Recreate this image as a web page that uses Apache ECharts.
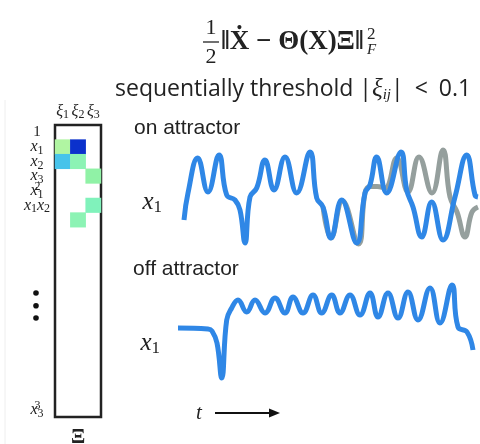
<!DOCTYPE html>
<html><head><meta charset="utf-8">
<script src="https://cdn.jsdelivr.net/npm/echarts@6/dist/echarts.min.js"></script>
<style>html,body{margin:0;padding:0;background:#fff}#c{width:480px;height:444px}</style>
</head><body><div id="c"></div>
<script>
// ---- Library terms (rows) and coefficient columns ----
const terms = ['1','x1','x2','x3','x1^2','x1x2','x1x3','x2^2','x2x3','x3^2',
  'x1^3','x1^2x2','x1^2x3','x1x2^2','x1x2x3','x1x3^2','x2^3','x2^2x3','x2x3^2','x3^3'];
const shownTerms = ['1','x1','x2','x3','x1^2','x1x2','x3^3'];
const coefCols = ['1','2','3'];          // ξ1, ξ2, ξ3
// nonzero sparse coefficients per column: [term, value]
const xi1 = [['x1',-10],['x2',10]];
const xi2 = [['x1',28],['x2',-1],['x1x3',-1]];
const xi3 = [['x3',-2.667],['x1x2',1]];

// ---- "on attractor" time series (t, x1) ----
const onTime = [0.6,1.0,1.97,3.0,4.1,4.87,5.7,6.2,6.7,7.2,7.87,8.7,9.6,10.7,11.87,13.2,13.87,14.5,15.3,16.37,17.87,18.7,19.2,19.87,20.87,22.3,22.87,23.5,24.37,25.37,26.5,27.7,28.87,29.7,30.0];
const onTrue = [-8.8,2.0,16,2.4,17.2,1.2,-0.8,-4.8,-18,0.4,4,15.2,3.2,16.4,2,18.4,0,-3.6,-16,-0.8,-18,2,5.2,16.4,2,18.4,3.2,-3.6,-15.6,-1.6,-16.8,0.4,17.2,1.2,0.4];
const onModelTime = [14.5,15.3,16.45,18.05,18.7,19.2,19.9,20.7,21.87,23.0,24.1,25.4,26.5,27.2,27.9,28.7,29.4,30.0];
const onModel = [-3.6,-16,-1.2,-18.4,2,4.6,4.6,4.0,16,2.4,16.4,2,19.2,0.4,-5.6,-15.6,-5.6,-3.6];

// ---- "off attractor" time series (t, x1) ----
const offTime = [0,3.0,3.4,3.9,4.37,4.87,5.37,6.0,6.87,7.7,8.7,9.7,10.7,11.5,12.5,13.5,14.37,15.37,16.2,17.2,18.2,19.2,20.0,21.0,22.0,23.0,24.0,25.2,26.2,27.4,28.0,28.9,29.5];
const offX1 = [0.4,0,-0.8,-5.6,-19.6,3.6,8.4,11.6,6.8,11.6,6.4,12.4,6.4,12.8,6.4,13.6,6.4,13.6,6.4,13.6,5.6,14.4,4.8,14.4,4.4,14.8,3.6,16.4,2.4,17.6,0.8,-1.2,-8.4];

const zip = (a, b) => a.map((v, i) => [v, b[i]]);
const heatData = [];
[xi1, xi2, xi3].forEach((col, ci) => col.forEach(([term, v]) => heatData.push([ci, terms.indexOf(term), v])));

function termRich(term) {
  if (shownTerms.indexOf(term) < 0) return '';
  if (term === '1') return '{n|1}';
  let out = ''; const re = /x(\d)(\^(\d))?/g; let m;
  while ((m = re.exec(term))) {
    out += '{v|x}';
    if (m[3]) out += '{sup|' + m[3] + '}';
    out += '{sub|' + m[1] + '}';
  }
  return out;
}
const serif = 'Liberation Serif, DejaVu Serif, serif';
const labelRich = {
  n: {fontFamily: serif, fontSize: 15, color: '#222', lineHeight: 20},
  v: {fontFamily: serif, fontStyle: 'italic', fontSize: 16, color: '#222', lineHeight: 20},
  sub: {fontFamily: serif, fontSize: 12, color: '#222', verticalAlign: 'bottom', lineHeight: 12},
  sup: {fontFamily: serif, fontSize: 12, color: '#222', verticalAlign: 'top', lineHeight: 12, width: 0}
};
const x1Name = '{v|x}{sub|1}';
const x1Rich = {
  v: {fontFamily: serif, fontStyle: 'italic', fontSize: 25, color: '#222', lineHeight: 28},
  sub: {fontFamily: serif, fontSize: 17, color: '#222', verticalAlign: 'bottom', lineHeight: 16}
};
const blue = '#2f87e6', gray = '#959f9d';
const titleStyle = {fontFamily: 'Liberation Sans', fontSize: 21, fontWeight: 'normal', color: '#222'};

const chart = echarts.init(document.getElementById('c'), null, {renderer: 'canvas'});
chart.setOption({
  animation: false,
  backgroundColor: '#fff',
  title: [
    {text: 'on attractor', left: 134, top: 118, padding: 0, textStyle: titleStyle},
    {text: 'off attractor', left: 133, top: 259, padding: 0, textStyle: titleStyle}
  ],
  grid: [
    {left: 55, top: 125, width: 46, height: 292, show: true, borderColor: '#222', borderWidth: 2.5, backgroundColor: 'transparent'},
    {left: 178, top: 148, width: 302, height: 100},
    {left: 178, top: 279, width: 302, height: 105}
  ],
  xAxis: [
    {gridIndex: 0, type: 'category', data: coefCols, position: 'top',
     axisLine: {show: false}, axisTick: {show: false},
     axisLabel: {interval: 0, margin: 4, formatter: c => '{v|ξ}{sub|' + c + '}', rich: {
       v: {fontFamily: serif, fontStyle: 'italic', fontSize: 16, color: '#222', lineHeight: 18},
       sub: {fontFamily: serif, fontSize: 12, color: '#222', verticalAlign: 'bottom', lineHeight: 11}}}},
    {gridIndex: 1, type: 'value', min: 0, max: 30.2, show: false},
    {gridIndex: 2, type: 'value', min: 0, max: 30.2, show: false}
  ],
  yAxis: [
    {gridIndex: 0, type: 'category', data: terms, inverse: true,
     axisLine: {show: false}, axisTick: {show: false}, splitLine: {show: false},
     axisLabel: {interval: 0, align: 'center', margin: 18, formatter: termRich, rich: labelRich}},
    {gridIndex: 1, type: 'value', min: -20, max: 20,
     axisLine: {show: false}, axisTick: {show: false}, axisLabel: {show: false}, splitLine: {show: false},
     name: x1Name, nameLocation: 'middle', nameRotate: 0, nameGap: 16,
     nameTextStyle: {rich: x1Rich, padding: [8, 0, 0, 0]}},
    {gridIndex: 2, type: 'value', min: -22, max: 20,
     axisLine: {show: false}, axisTick: {show: false}, axisLabel: {show: false}, splitLine: {show: false},
     name: x1Name, nameLocation: 'middle', nameRotate: 0, nameGap: 18,
     nameTextStyle: {rich: x1Rich, padding: [24, 0, 0, 0]}}
  ],
  visualMap: {
    type: 'piecewise', show: false, seriesIndex: 0, dimension: 2,
    pieces: [
      {lte: -5, color: '#b0f5a2'},
      {gt: -5, lt: -2, color: '#90f2a6'},
      {gte: -2, lt: 0, color: '#8cf3b4'},
      {gte: 0, lte: 2, color: '#80f2bb'},
      {gt: 2, lt: 15, color: '#47c3ea'},
      {gte: 15, color: '#0b31cc'}
    ]
  },
  series: [
    {type: 'heatmap', xAxisIndex: 0, yAxisIndex: 0, data: heatData, itemStyle: {borderWidth: 0}},
    {type: 'line', xAxisIndex: 1, yAxisIndex: 1, data: zip(onModelTime, onModel), smooth: 0.45,
     showSymbol: false, lineStyle: {color: gray, width: 5}, z: 2},
    {type: 'line', xAxisIndex: 1, yAxisIndex: 1, data: zip(onTime, onTrue), smooth: 0.45,
     showSymbol: false, lineStyle: {color: blue, width: 5}, z: 3},
    {type: 'line', xAxisIndex: 2, yAxisIndex: 2, data: zip(offTime, offX1), smooth: 0.45,
     showSymbol: false, lineStyle: {color: blue, width: 5}, z: 3}
  ],
  graphic: [
    {type: 'line', shape: {x1: 5, y1: 100, x2: 5, y2: 444}, style: {stroke: '#eee', lineWidth: 1}},
    {type: 'text', x: 211, y: 28, style: {text: '1', font: '22px ' + serif, fill: '#222', textAlign: 'center', textVerticalAlign: 'middle'}},
    {type: 'line', shape: {x1: 203, y1: 42, x2: 219, y2: 42}, style: {stroke: '#222', lineWidth: 1.3}},
    {type: 'text', x: 211, y: 57, style: {text: '2', font: '22px ' + serif, fill: '#222', textAlign: 'center', textVerticalAlign: 'middle'}},
    {type: 'text', x: 221, y: 42, style: {
      text: '{b|‖Ẋ − Θ(X)Ξ‖}{s| }{sup|2}{f|F}', textVerticalAlign: 'middle',
      rich: {
        b: {fontFamily: serif, fontWeight: 'bold', fontSize: 27, fill: '#222', lineHeight: 32},
        s: {fontSize: 12, lineHeight: 10},
        sup: {fontFamily: serif, fontSize: 17, fill: '#222', verticalAlign: 'top', lineHeight: 16, width: 0},
        f: {fontFamily: serif, fontStyle: 'italic', fontSize: 15, fill: '#222', verticalAlign: 'bottom', lineHeight: 15}
      }}},
    {type: 'text', x: 115, y: 89, style: {
      text: '{s|sequentially threshold }{s||}{m|ξ}{i|ij}{s||}{g| }{s|<}{g| }{s|0.1}', textVerticalAlign: 'middle',
      rich: {
        s: {fontFamily: 'Open Sans', fontSize: 23, fill: '#222', lineHeight: 28},
        g: {fontFamily: 'Open Sans', fontSize: 23, width: 11, lineHeight: 28},
        m: {fontFamily: serif, fontStyle: 'italic', fontSize: 25, fill: '#222', lineHeight: 28},
        i: {fontFamily: serif, fontStyle: 'italic', fontSize: 15, fill: '#222', verticalAlign: 'bottom', lineHeight: 14}
      }}},
    {type: 'circle', shape: {cx: 36, cy: 293, r: 2.8}, style: {fill: '#111'}},
    {type: 'circle', shape: {cx: 36, cy: 305.7, r: 2.8}, style: {fill: '#111'}},
    {type: 'circle', shape: {cx: 36, cy: 318, r: 2.8}, style: {fill: '#111'}},
    {type: 'text', x: 78, y: 438, style: {text: 'Ξ', font: 'bold 21px ' + serif, fill: '#222', textAlign: 'center', textVerticalAlign: 'middle'}},
    {type: 'text', x: 199, y: 413, style: {text: 't', font: 'italic 21px ' + serif, fill: '#222', textAlign: 'center', textVerticalAlign: 'middle'}},
    {type: 'line', shape: {x1: 215, y1: 413, x2: 271, y2: 413}, style: {stroke: '#111', lineWidth: 2}},
    {type: 'polygon', shape: {points: [[269, 408.5], [280, 413], [269, 417.5]]}, style: {fill: '#111'}}
  ]
});
</script></body></html>
